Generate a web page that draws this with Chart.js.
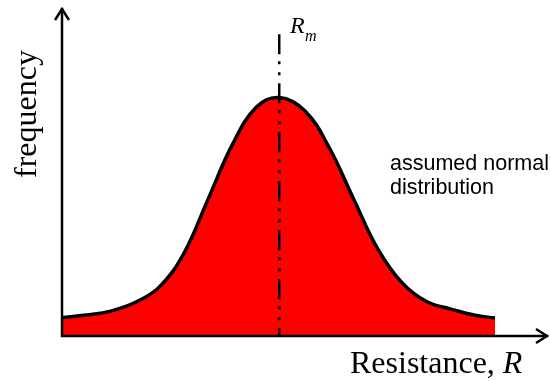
<!DOCTYPE html>
<html>
<head>
<meta charset="utf-8">
<script src="https://cdn.jsdelivr.net/npm/chart.js@4"></script>
<style>
  html, body { margin: 0; padding: 0; background: #fff; }
  #myChart { display: block; }
</style>
</head>
<body>
<canvas id="myChart" width="551" height="381"></canvas>
<script>
// resistance values (arbitrary units) and the frequency
const rValues = [0, 5, 10, 15, 20, 25, 30, 35, 40, 44.7, 50, 55, 60, 65, 70, 75, 80, 85, 89.1];
const freqValues = [5.6, 6.4, 7.6, 10.2, 14.9, 25.0, 41.5, 58.2, 69.8, 72.7, 68.6, 57.4, 41.8,
  26.5, 16.2, 10.5, 8.2, 6.3, 5.5];
const rMean = 44.7;
const rMeanLineTop = 92;
const noteLines = ["assumed normal", "distribution"];

const ctx = document.getElementById("myChart").getContext("2d");

const arrowAxes = {
  id: "arrowAxes",
  afterDatasetsDraw(chart) {
    const { ctx, scales: { x, y } } = chart;
    const x0 = x.getPixelForValue(0);
    const y0 = y.getPixelForValue(0);
    const xEnd = x.getPixelForValue(x.max);
    const yEnd = y.getPixelForValue(y.max);
    const xm = x.getPixelForValue(rMean);
    ctx.save();

    // dash-dot line at R_m
    ctx.strokeStyle = "#000";
    ctx.lineWidth = 2.5;
    ctx.setLineDash([20, 7, 3, 8, 3, 8]);
    ctx.beginPath();
    ctx.moveTo(xm, y.getPixelForValue(rMeanLineTop));
    ctx.lineTo(xm, y0);
    ctx.stroke();
    ctx.setLineDash([]);

    // axes
    ctx.lineWidth = 2.5;
    ctx.lineCap = "butt";
    ctx.beginPath();
    ctx.moveTo(x0, yEnd);
    ctx.lineTo(x0, y0);
    ctx.lineTo(xEnd, y0);
    ctx.stroke();
    ctx.lineJoin = "miter";
    ctx.beginPath();
    ctx.moveTo(x0 - 7, yEnd + 12);
    ctx.lineTo(x0, yEnd + 1);
    ctx.lineTo(x0 + 7, yEnd + 12);
    ctx.moveTo(xEnd - 12, y0 - 7);
    ctx.lineTo(xEnd - 1, y0);
    ctx.lineTo(xEnd - 12, y0 + 7);
    ctx.stroke();

    // labels
    ctx.fillStyle = "#000";
    ctx.textBaseline = "alphabetic";
    ctx.textAlign = "left";
    ctx.font = '32px "Liberation Serif"';
    const t = "Resistance, ";
    ctx.fillText(t, 350, 373);
    const w = ctx.measureText(t).width;
    ctx.font = 'italic 32px "Liberation Serif"';
    ctx.fillText("R", 350 + w, 373);

    ctx.save();
    ctx.translate(36, 114);
    ctx.rotate(-Math.PI / 2);
    ctx.textAlign = "center";
    ctx.font = '32px "Liberation Serif"';
    ctx.fillText("frequency", 0, 0);
    ctx.restore();

    ctx.font = 'italic 24px "Liberation Serif"';
    ctx.fillText("R", 290, 33);
    ctx.font = 'italic 16px "Liberation Serif"';
    ctx.fillText("m", 305, 41);

    ctx.font = '21.5px "Liberation Sans"';
    noteLines.forEach((line, i) => ctx.fillText(line, 390, 170 + i * 24));
    ctx.restore();
  },
};

const myChart = new Chart(ctx, {
  type: "line",
  data: {
    datasets: [
      {
        data: rValues.map((r, i) => ({ x: r, y: freqValues[i] })),
        borderColor: "#000",
        borderWidth: 3.5,
        backgroundColor: "#ff0000",
        fill: "origin",
        pointRadius: 0,
        tension: 0.4,
      },
    ],
  },
  options: {
    responsive: false,
    animation: false,
    layout: { padding: { left: 62, right: 3, top: 8, bottom: 45 } },
    scales: {
      x: { type: "linear", min: 0, max: 100, display: false },
      y: { min: 0, max: 100, display: false },
    },
    plugins: {
      legend: { display: false },
      tooltip: { enabled: false },
    },
  },
  plugins: [arrowAxes],
});
</script>
</body>
</html>
